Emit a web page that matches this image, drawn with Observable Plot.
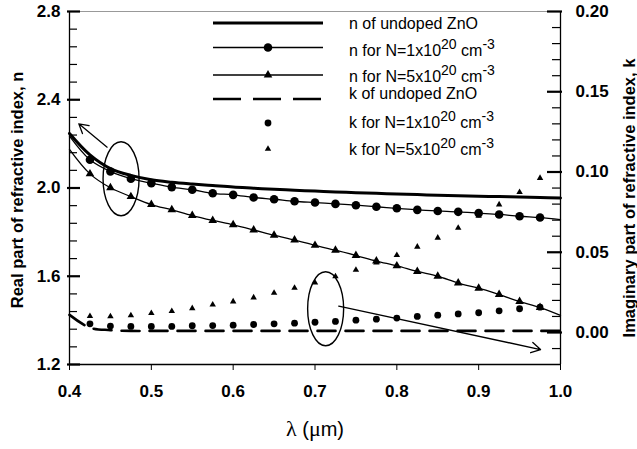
<!DOCTYPE html>
<html><head><meta charset="utf-8">
<script src="https://cdn.jsdelivr.net/npm/d3@7"></script>
<script src="https://cdn.jsdelivr.net/npm/@observablehq/plot@0.6"></script>
<style>body{margin:0;background:#fff}#chart{width:637px;height:449px}</style>
</head><body><div id="chart"></div>
<script>
// wavelength (µm)
const lambda = [0.4,0.425,0.45,0.475,0.5,0.525,0.55,0.575,0.6,0.625,0.65,0.675,0.7,0.725,0.75,0.775,0.8,0.825,0.85,0.875,0.9,0.925,0.95,0.975,1.0];
// n of undoped ZnO
const nUndoped = [2.247,2.150,2.088,2.057,2.037,2.026,2.018,2.011,2.004,1.999,1.994,1.990,1.986,1.982,1.979,1.976,1.973,1.970,1.967,1.965,1.963,1.961,1.959,1.957,1.955];
// n for N=1e20
const n1e20 = [2.235,2.128,2.075,2.042,2.022,2.004,1.992,1.976,1.969,1.957,1.949,1.940,1.934,1.928,1.922,1.915,1.908,1.901,1.896,1.892,1.886,1.880,1.872,1.866,1.857];
// n for N=5e20
const n5e20 = [2.175,2.064,2.001,1.961,1.925,1.901,1.875,1.853,1.833,1.810,1.786,1.764,1.740,1.718,1.694,1.669,1.647,1.622,1.600,1.569,1.546,1.517,1.486,1.458,1.423];
// k of undoped ZnO
const kUndoped = [0.011,0.003,0.0015,0.001,0.001,0.001,0.001,0.001,0.001,0.001,0.001,0.001,0.001,0.001,0.001,0.001,0.001,0.001,0.001,0.001,0.001,0.001,0.001,0.001,0.001];
// k markers
const kLambda = [0.425,0.45,0.475,0.5,0.525,0.55,0.575,0.6,0.625,0.65,0.675,0.7,0.725,0.75,0.775,0.8,0.825,0.85,0.875,0.9,0.925,0.95,0.975];
const k1e20 = [0.0054,0.0040,0.0038,0.0038,0.0038,0.0042,0.0043,0.0046,0.0050,0.0054,0.0058,0.0064,0.0069,0.0077,0.0083,0.0090,0.0100,0.0108,0.0116,0.0123,0.0135,0.0148,0.0158];
const k5e20 = [0.0102,0.0100,0.0106,0.0120,0.0133,0.0151,0.0173,0.0193,0.0218,0.0247,0.0278,0.0310,0.0349,0.0390,0.0435,0.0482,0.0534,0.0590,0.0652,0.0726,0.0797,0.0874,0.0962];
// ticks
const xTicks = [0.4,0.5,0.6,0.7,0.8,0.9,1.0];
const yMajor = [1.2,1.6,2.0,2.4,2.8];
const yMinor = [1.28,1.36,1.44,1.52,1.68,1.76,1.84,1.92,2.08,2.16,2.24,2.32,2.48,2.56,2.64,2.72];
const kMajor = [0,0.05,0.10,0.15,0.20];
const kMinor = [-0.01,0.01,0.02,0.03,0.04,0.06,0.07,0.08,0.09,0.11,0.12,0.13,0.14,0.16,0.17,0.18,0.19];
// annotations
const ellipseN = [{x:0.463, n:2.042}];
const ellipseK = [{x:0.713, k:0.0148}];
const arrowN = [{x1:0.446, n1:2.185, x2:0.4114, n2:2.291}];
const arrowK = [{x1:0.729, k1:0.0164, x2:0.9756, k2:-0.0106}];
// legend labels
const legendLabels = [
  [["n of undoped ZnO"]],
  [["n for N=1x10"],["20",1],[" cm"],["-3",1]],
  [["n for N=5x10"],["20",1],[" cm"],["-3",1]],
  [["k of undoped ZnO"]],
  [["k for N=1x10"],["20",1],[" cm"],["-3",1]],
  [["k for N=5x10"],["20",1],[" cm"],["-3",1]]
];

// twin axis: k -> left (n) scale
const K0 = 1.345, KS = (2.8 - 1.345) / 0.2;
const kToN = k => K0 + k * KS;
const nToK = n => (n - K0) / KS;

const rows = lambda.map((x,i)=>({x, n0:nUndoped[i], n1:n1e20[i], n5:n5e20[i], k0:kToN(kUndoped[i])}));
const inner = rows.slice(1, -1);
const krows = kLambda.map((x,i)=>({x, k1:kToN(k1e20[i]), k5:kToN(k5e20[i])}));

const PX = 0.6/491; // data units per pixel on x
const ellipseSymbol = {draw(ctx){ const a=18,b=37,c=0.5523;
  ctx.moveTo(a,0); ctx.bezierCurveTo(a,c*b,c*a,b,0,b); ctx.bezierCurveTo(-c*a,b,-a,c*b,-a,0);
  ctx.bezierCurveTo(-a,-c*b,-c*a,-b,0,-b); ctx.bezierCurveTo(c*a,-b,a,-c*b,a,0); ctx.closePath(); }};

const svg = Plot.plot({
  width: 637, height: 449,
  marginLeft: 69, marginRight: 77, marginTop: 11, marginBottom: 85,
  x: {domain: [0.4, 1.0]},
  y: {domain: [1.2, 2.8]},
  style: {fontFamily: "'Liberation Sans', Arial, sans-serif", fontSize: "17px", fontWeight: "bold", color: "black", background: "white", overflow: "visible"},
  marks: [
    Plot.ruleY([2.8], {stroke: "#999", strokeWidth: 1}),
    Plot.ruleX([0.4], {stroke: "black", strokeWidth: 1.3}),
    Plot.ruleX([1.0], {stroke: "black", strokeWidth: 1.3}),
    Plot.ruleY([1.2], {stroke: "black", strokeWidth: 1.3}),
    Plot.ruleY(yMajor, {x1: 0.4 - 2*PX, x2: 0.4 + 11*PX, strokeWidth: 2.2}),
    Plot.ruleY(yMinor, {x1: 0.4, x2: 0.4 + 8*PX, strokeWidth: 1.2}),
    Plot.ruleY(kMajor.map(kToN), {x1: 1.0 - 13*PX, x2: 1.0 + 2*PX, strokeWidth: 2.2}),
    Plot.ruleY(kMinor.map(kToN), {x1: 1.0 - 8*PX, x2: 1.0, strokeWidth: 1.2}),
    Plot.axisX({ticks: xTicks, tickSize: 6, tickPadding: 14, tickFormat: d => d.toFixed(1), label: null}),
    Plot.axisY({anchor: "left", ticks: yMajor, tickSize: 0, tickPadding: 9, tickFormat: d => d.toFixed(1), label: null}),
    Plot.axisY({anchor: "right", ticks: kMajor.map(kToN), tickSize: 0, tickPadding: 15, tickFormat: v => Math.abs(nToK(v)).toFixed(2), label: null}),
    // k curves
    Plot.line(rows, {x: "x", y: "k0", stroke: "black", strokeWidth: 2.6, strokeDasharray: "18,10", curve: "catmull-rom"}),
    Plot.dot(krows, {x: "x", y: "k1", r: 3.4, fill: "black"}),
    Plot.dot(krows, {x: "x", y: "k5", r: 2.4, symbol: "triangle", fill: "black"}),
    // n curves
    Plot.line(rows, {x: "x", y: "n0", stroke: "black", strokeWidth: 3, curve: "catmull-rom"}),
    Plot.line(rows, {x: "x", y: "n1", stroke: "black", strokeWidth: 1.3, curve: "catmull-rom"}),
    Plot.dot(inner, {x: "x", y: "n1", r: 4.3, fill: "black"}),
    Plot.line(rows, {x: "x", y: "n5", stroke: "black", strokeWidth: 1.3, curve: "catmull-rom"}),
    Plot.dot(inner, {x: "x", y: "n5", r: 3.2, symbol: "triangle", fill: "black"}),
    // annotations
    Plot.dot(ellipseN, {x: "x", y: "n", symbol: ellipseSymbol, r: 1, fill: "none", stroke: "black", strokeWidth: 1.4}),
    Plot.dot(ellipseK, {x: "x", y: d => kToN(d.k), symbol: ellipseSymbol, r: 1, fill: "none", stroke: "black", strokeWidth: 1.4}),
    Plot.arrow(arrowN, {x1: "x1", y1: "n1", x2: "x2", y2: "n2", stroke: "black", strokeWidth: 1.3, headLength: 12}),
    Plot.arrow(arrowK, {x1: "x1", y1: d => kToN(d.k1), x2: "x2", y2: d => kToN(d.k2), stroke: "black", strokeWidth: 1.3, headLength: 12})
  ]
});

const root = d3.select(svg);
// axis titles
root.append("text").attr("transform", "translate(23,190) rotate(-90)").attr("text-anchor", "middle")
  .style("font", "bold 16.5px 'Liberation Sans', Arial, sans-serif").text("Real part of refractive index, n");
root.append("text").attr("transform", "translate(635,198) rotate(-90)").attr("text-anchor", "middle")
  .style("font", "bold 16.5px 'Liberation Sans', Arial, sans-serif").text("Imaginary part of refractive index, k");
const xl = root.append("text").attr("x", 315).attr("y", 436).attr("text-anchor", "middle")
  .style("font", "normal 20px 'Liberation Sans', Arial, sans-serif");
xl.append("tspan").style("font-family", "'Liberation Serif', serif").style("font-size", "22px").text("λ");
xl.append("tspan").text(" (");
xl.append("tspan").style("font-family", "'Liberation Serif', serif").style("font-size", "22px").text("μ");
xl.append("tspan").text("m)");

// legend
const lg = root.append("g").attr("text-anchor", "start").style("font", "normal 16px 'Liberation Sans', Arial, sans-serif");
const rowY = [23, 47.5, 75, 99, 123, 149];
const textY = [29, 56, 82, 99, 128, 155];
const lx1 = 213, lx2 = 323, mx = 268, tx = 349;
lg.append("line").attr("x1", lx1).attr("x2", lx2).attr("y1", rowY[0]).attr("y2", rowY[0]).attr("stroke", "black").attr("stroke-width", 3);
lg.append("line").attr("x1", lx1).attr("x2", lx2).attr("y1", rowY[1]).attr("y2", rowY[1]).attr("stroke", "black").attr("stroke-width", 1.3);
lg.append("circle").attr("cx", mx).attr("cy", rowY[1]).attr("r", 4.3);
lg.append("line").attr("x1", lx1).attr("x2", lx2).attr("y1", rowY[2]).attr("y2", rowY[2]).attr("stroke", "black").attr("stroke-width", 1.3);
lg.append("path").attr("transform", `translate(${mx},${rowY[2]})`).attr("d", d3.symbol(d3.symbolTriangle, Math.PI*3.2*3.2)());
lg.append("line").attr("x1", lx1).attr("x2", lx2).attr("y1", rowY[3]).attr("y2", rowY[3]).attr("stroke", "black").attr("stroke-width", 2.6).attr("stroke-dasharray", "28,12");
lg.append("circle").attr("cx", mx).attr("cy", rowY[4]).attr("r", 3.4);
lg.append("path").attr("transform", `translate(${mx},${rowY[5]})`).attr("d", d3.symbol(d3.symbolTriangle, Math.PI*2.4*2.4)());
legendLabels.forEach((parts, i) => {
  const t = lg.append("text").attr("x", tx).attr("y", textY[i]).attr("text-anchor", "start");
  let up = false;
  parts.forEach(([s, sup]) => {
    const ts = t.append("tspan").text(s);
    if (sup && !up) { ts.attr("dy", -7).style("font-size", "14px"); up = true; }
    else if (sup && up) { ts.style("font-size", "14px"); }
    else if (!sup && up) { ts.attr("dy", 7); up = false; }
  });
});

document.getElementById("chart").appendChild(svg);
</script>
</body></html>
